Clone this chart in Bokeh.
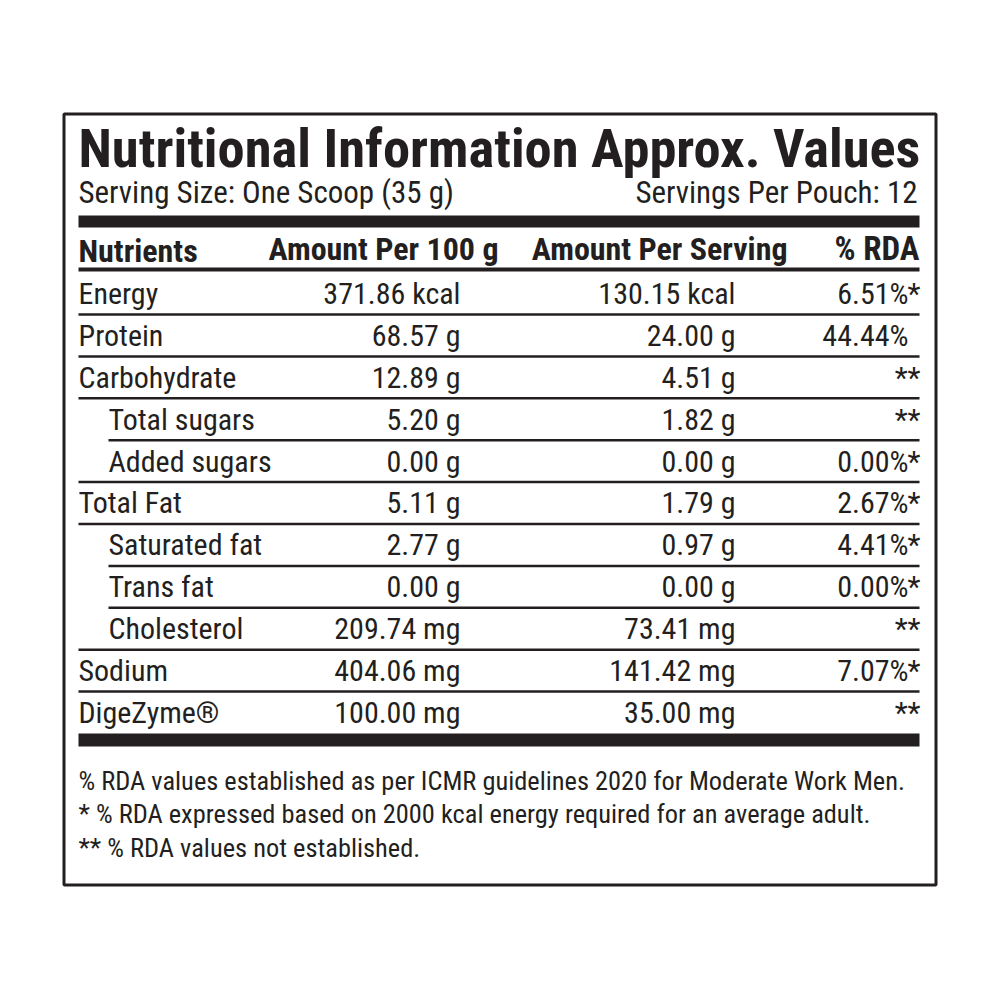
from bokeh.plotting import figure
from bokeh.models import Range1d
from bokeh.core.properties import value
from bokeh.embed import file_html
from bokeh.resources import INLINE

# ---------------- data ----------------
title = "Nutritional Information Approx. Values"
serving_size = "Serving Size: One Scoop (35 g)"
servings_per_pouch = "Servings Per Pouch: 12"
headers = ["Nutrients", "Amount Per 100 g", "Amount Per Serving", "% RDA"]
nutrients = ["Energy", "Protein", "Carbohydrate", "Total sugars", "Added sugars",
             "Total Fat", "Saturated fat", "Trans fat", "Cholesterol", "Sodium", "DigeZyme®"]
indented = [False, False, False, True, True, False, True, True, True, False, False]
per_100g = ["371.86 kcal", "68.57 g", "12.89 g", "5.20 g", "0.00 g", "5.11 g",
            "2.77 g", "0.00 g", "209.74 mg", "404.06 mg", "100.00 mg"]
per_serving = ["130.15 kcal", "24.00 g", "4.51 g", "1.82 g", "0.00 g", "1.79 g",
               "0.97 g", "0.00 g", "73.41 mg", "141.42 mg", "35.00 mg"]
rda_value = ["6.51%", "44.44%", "", "", "0.00%", "2.67%", "4.41%", "0.00%", "", "7.07%", ""]
rda_note = ["*", "", "**", "**", "*", "*", "*", "*", "**", "*", "**"]
footnotes = [
    "% RDA values established as per ICMR guidelines 2020 for Moderate Work Men.",
    "* % RDA expressed based on 2000 kcal energy required for an average adult.",
    "** % RDA values not established.",
]

# ---------------- layout / style ----------------
INK = "#231f20"
FONT = "Roboto Condensed, Liberation Sans Narrow, DejaVu Sans Condensed, sans-serif"
LEFT, RIGHT = 78, 919
INDENT = 108
COL2, COL3, COL4V, COL4N = 460, 735, 908, 920
ROW0, PITCH = 303, 41.9
FOOT0, FOOT_PITCH = 789, 33.5
BASE_SHIFT = 0.335  # empirical baseline correction (fraction of font size)

p = figure(width=984, height=984, output_backend="svg", toolbar_location=None,
           x_range=Range1d(0, 984), y_range=Range1d(984, 0),
           x_axis_type=None, y_axis_type=None, min_border=0,
           background_fill_color="white", border_fill_color="white")
p.outline_line_color = None
p.grid.visible = False


def txt(x, y, t, size, align="left", bold=False):
    yy = [v - BASE_SHIFT * size for v in y]
    p.text(x=x, y=yy, text=t, text_font=value(FONT),
           text_font_size=value(f"{size}px"), text_align=align,
           text_baseline="alphabetic", text_color=INK,
           text_font_style="bold" if bold else "normal")


# outer frame
p.quad(left=[63.5], right=[935.5], top=[113.5], bottom=[884.5],
       fill_color=None, line_color=INK, line_width=3)

# title & serving
txt([LEFT], [166], [title], 54.5, bold=True)
txt([LEFT], [202], [serving_size], 31)
txt([917], [202], [servings_per_pouch], 31, align="right")

# thick bars
p.quad(left=[LEFT], right=[RIGHT], top=[215], bottom=[227], fill_color=INK, line_color=None)
p.quad(left=[LEFT], right=[RIGHT], top=[733], bottom=[746], fill_color=INK, line_color=None)

# header
txt([LEFT], [261], [headers[0]], 32, bold=True)
txt([498], [259], [headers[1]], 32, align="right", bold=True)
txt([787], [259], [headers[2]], 32, align="right", bold=True)
txt([RIGHT], [259], [headers[3]], 33, align="right", bold=True)
p.quad(left=[LEFT], right=[RIGHT], top=[267], bottom=[271], fill_color=INK, line_color=None)

# rows
n = len(nutrients)
ys = [ROW0 + i * PITCH for i in range(n)]
xs_name = [INDENT if ind else LEFT for ind in indented]
txt(xs_name, ys, nutrients, 30)
txt([COL2] * n, ys, per_100g, 30, align="right")
txt([COL3] * n, ys, per_serving, 30, align="right")
txt([COL4V] * n, ys, rda_value, 30, align="right")
txt([COL4N] * n, ys, rda_note, 30, align="right")

# row separators
sep_x0, sep_y = [], []
for i in range(n - 1):
    sep_x0.append(INDENT if (indented[i] and indented[i + 1]) else LEFT)
    sep_y.append(ys[i] + 11)
p.segment(x0=sep_x0, x1=[RIGHT] * len(sep_y), y0=sep_y, y1=sep_y,
          line_color=INK, line_width=2.5)

# footnotes
fy = [FOOT0 + i * FOOT_PITCH for i in range(len(footnotes))]
txt([LEFT] * len(footnotes), fy, footnotes, 26.4)

open("out.html", "w").write(file_html(p, INLINE))
